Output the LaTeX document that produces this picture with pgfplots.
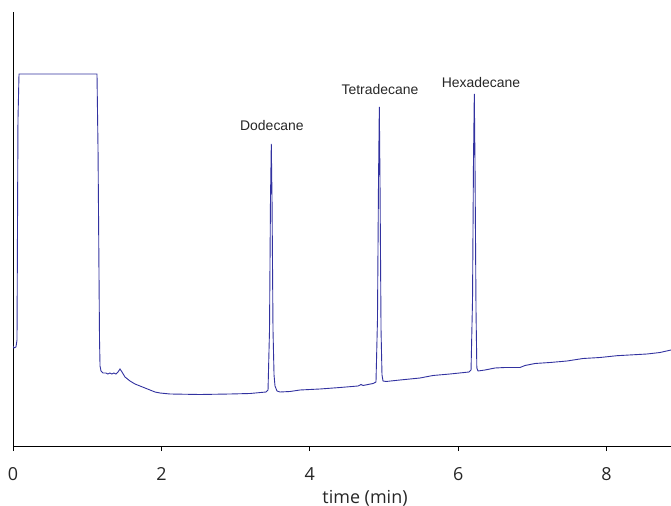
\documentclass[border=0pt]{standalone}
\usepackage{pgfplots}
\pgfplotsset{compat=1.18}
\usepackage{fontspec}
\setmainfont{Open Sans}
\newfontfamily\tickfont{Open Sans}
\newfontfamily\annfont{Liberation Sans}
\definecolor{trace}{RGB}{50,50,160}
\begin{document}
\begin{tikzpicture}
\begin{axis}[
  name=ax,
  scale only axis,
  width=658bp, height=434bp,
  xmin=0, xmax=8.868, ymin=0, ymax=434,
  axis x line*=bottom, axis y line*=left,
  axis line style={black, line width=0.8bp},
  xtick={0,2,4,6,8}, ytick=\empty,
  tick align=outside, major tick length=5bp,
  tick style={black, line width=0.8bp},
  /pgf/number format/assume math mode=true,
  ticklabel style={font=\tickfont\fontsize{18}{20}\selectfont, text=black!85},
  xticklabel style={yshift=-13bp},
  xlabel={time (min)},
  xlabel style={font=\tickfont\fontsize{18}{20}\selectfont, text=black!85, at={(axis description cs:0.535,0)}, anchor=center, yshift=-52bp},
]
\addplot[trace, line width=0.9bp] coordinates {
(0,100) (0.013,98) (0.04,99) (0.054,106) (0.067,326) (0.081,372)
(1.132,372) (1.146,296) (1.166,106) (1.173,80) (1.186,75) (1.213,73)
(1.253,73) (1.280,72) (1.307,73) (1.334,72) (1.361,73) (1.388,72)
(1.415,74) (1.442,77) (1.469,74) (1.509,69) (1.577,65) (1.644,62)
(1.712,60) (1.779,58) (1.846,56) (1.914,54) (1.981,53) (2.116,52)
(2.520,51.5) (2.925,52) (3.194,52.5) (3.410,54) (3.437,56) (3.457,116)
(3.470,246) (3.481,302) (3.491,246) (3.504,116) (3.518,71) (3.531,60)
(3.558,55) (3.598,54) (3.733,54.5) (3.868,56) (4.137,57) (4.407,58.5)
(4.650,60) (4.690,61.5) (4.717,60.5) (4.852,62.5) (4.892,64) (4.912,126)
(4.926,266) (4.937,339) (4.946,266) (4.960,116) (4.973,71) (4.987,65)
(5.027,64.5) (5.216,66) (5.485,68) (5.660,70.5) (5.889,72) (6.146,74)
(6.173,76) (6.193,146) (6.206,286) (6.217,352) (6.226,286) (6.240,136)
(6.251,78) (6.267,75) (6.361,76) (6.496,78) (6.631,78.5) (6.833,78.5)
(6.900,80.5) (7.035,82.5) (7.237,83.5) (7.466,85) (7.682,87.5) (7.911,88.5)
(8.140,90.3) (8.544,92) (8.720,93.5) (8.868,96)
};
\node[font=\annfont\fontsize{14}{16}\selectfont, text=black!85] at (axis cs:3.49,320) {Dodecane};
\node[font=\annfont\fontsize{14}{16}\selectfont, text=black!85] at (axis cs:4.946,356) {Tetradecane};
\node[font=\annfont\fontsize{14}{16}\selectfont, text=black!85] at (axis cs:6.307,363) {Hexadecane};
\end{axis}
\pgfresetboundingbox
\path ([shift={(-13bp,-60bp)}]ax.south west) rectangle ([shift={(0bp,12bp)}]ax.north east);
\end{tikzpicture}
\end{document}
